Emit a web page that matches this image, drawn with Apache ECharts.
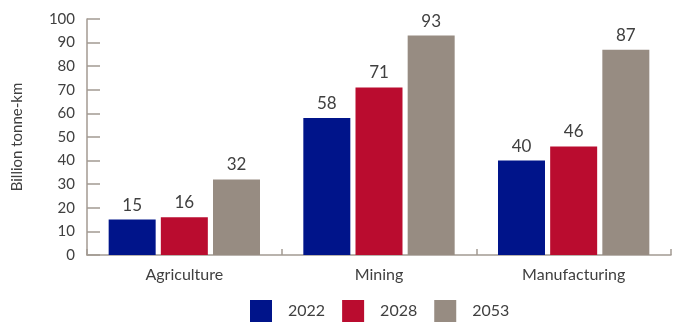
<!DOCTYPE html>
<html><head><meta charset="utf-8">
<script src="https://cdn.jsdelivr.net/npm/echarts@6/dist/echarts.min.js"></script>
<style>html,body{margin:0;padding:0;background:#fff}#c{width:678px;height:322px}</style>
</head><body><div id="c"></div>
<script>
const categories = ['Agriculture', 'Mining', 'Manufacturing'];
const s2022 = [15, 58, 40];
const s2028 = [16, 71, 46];
const s2053 = [32, 93, 87];
const seriesNames = ['2022', '2028', '2053'];
const colors = ['#00148a', '#ba0c2f', '#978c82'];
const font = 'Lato';
const chart = echarts.init(document.getElementById('c'));
const mk = (name, data, color) => ({
  name, type: 'bar', data, barWidth: 47, barGap: '11%',
  itemStyle: { color },
  label: { show: true, position: 'top', distance: 6, color: '#404040', fontSize: 17, fontFamily: font }
});
chart.setOption({
  animation: false,
  textStyle: { fontFamily: font },
  grid: { left: 87, right: 7, top: 19, bottom: 67 },
  legend: {
    bottom: 0, left: 250, padding: 0, itemWidth: 22, itemHeight: 22, itemGap: 17,
    textStyle: { fontSize: 16, color: '#404040', fontFamily: font, padding: [0, 0, 0, 11] },
    icon: 'rect',
    data: seriesNames
  },
  xAxis: {
    type: 'category', data: categories,
    axisLine: { lineStyle: { color: '#a39a92', width: 1.5 } },
    axisTick: { show: true, inside: true, length: 6, lineStyle: { color: '#a39a92', width: 1.5 } },
    axisLabel: { fontSize: 16, color: '#404040', margin: 12, fontFamily: font }
  },
  yAxis: {
    type: 'value', min: 0, max: 100, interval: 10,
    name: 'Billion tonne-km', nameLocation: 'middle', nameGap: 62, nameRotate: 90,
    nameTextStyle: { fontSize: 15, color: '#404040', fontFamily: font },
    axisLine: { show: true, lineStyle: { color: '#a39a92', width: 1.5 } },
    axisTick: { show: true, inside: true, length: 13, lineStyle: { color: '#a39a92', width: 1.5 } },
    splitLine: { show: false },
    axisLabel: { fontSize: 15, color: '#404040', margin: 12, fontFamily: font }
  },
  series: [mk(seriesNames[0], s2022, colors[0]), mk(seriesNames[1], s2028, colors[1]), mk(seriesNames[2], s2053, colors[2])]
});
</script></body></html>
